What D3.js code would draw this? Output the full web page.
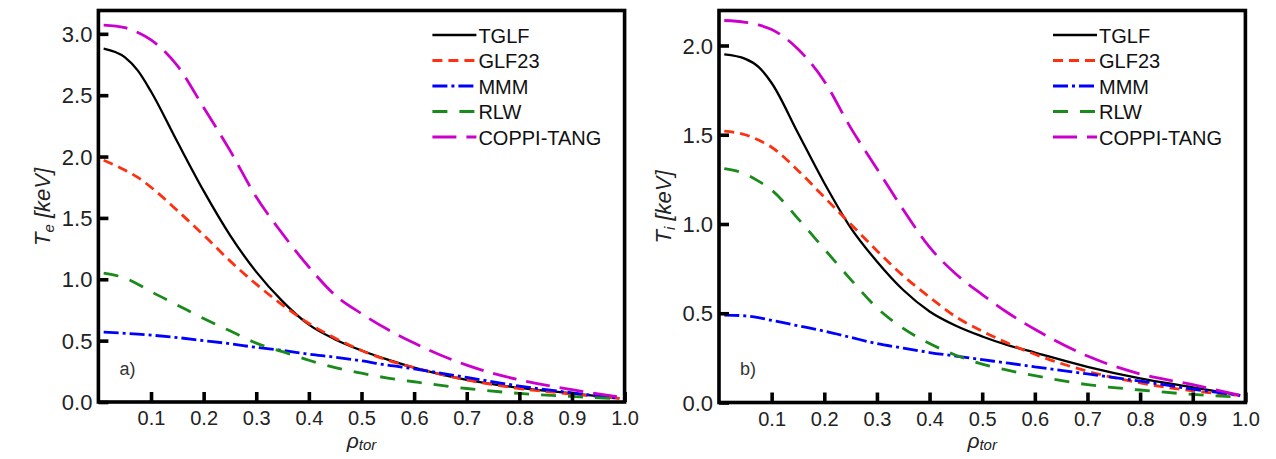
<!DOCTYPE html>
<html>
<head>
<meta charset="utf-8">
<script src="https://cdn.jsdelivr.net/npm/d3@7"></script>
<style>
  body { margin: 0; background: #fff; }
  svg { display: block; font-family: "Liberation Sans", Arial, sans-serif; }
  .tick text { fill: #222; }
</style>
</head>
<body>
<div id="chart"></div>
<script>
// rho_tor grid shared by all profiles
var rho = [0.01, 0.05, 0.075, 0.1, 0.15, 0.2, 0.25, 0.3, 0.35, 0.4, 0.45, 0.5, 0.55, 0.6, 0.7, 0.8, 0.9, 0.99];

// electron temperature, panel a)
var teTGLF  = [2.88, 2.81, 2.70, 2.53, 2.12, 1.72, 1.36, 1.06, 0.82, 0.63, 0.51, 0.42, 0.345, 0.28, 0.18, 0.115, 0.07, 0.03];
var teGLF23 = [1.97, 1.89, 1.83, 1.75, 1.56, 1.36, 1.15, 0.96, 0.79, 0.64, 0.52, 0.42, 0.34, 0.28, 0.18, 0.11, 0.065, 0.03];
var teMMM   = [0.57, 0.56, 0.553, 0.545, 0.525, 0.50, 0.475, 0.445, 0.42, 0.39, 0.365, 0.335, 0.30, 0.27, 0.20, 0.13, 0.075, 0.03];
var teRLW   = [1.05, 1.01, 0.96, 0.90, 0.79, 0.68, 0.58, 0.48, 0.41, 0.34, 0.28, 0.235, 0.195, 0.165, 0.11, 0.07, 0.045, 0.025];
var teCOPPI = [3.07, 3.05, 3.01, 2.95, 2.74, 2.40, 2.05, 1.67, 1.37, 1.10, 0.87, 0.72, 0.59, 0.48, 0.30, 0.18, 0.10, 0.04];

// ion temperature, panel b)
var tiTGLF  = [1.95, 1.925, 1.88, 1.79, 1.51, 1.23, 0.98, 0.79, 0.63, 0.51, 0.43, 0.37, 0.32, 0.28, 0.20, 0.135, 0.085, 0.04];
var tiGLF23 = [1.52, 1.50, 1.47, 1.43, 1.30, 1.15, 1.00, 0.85, 0.71, 0.59, 0.48, 0.40, 0.33, 0.27, 0.175, 0.11, 0.065, 0.04];
var tiMMM   = [0.49, 0.485, 0.475, 0.46, 0.43, 0.40, 0.365, 0.33, 0.305, 0.28, 0.26, 0.24, 0.22, 0.20, 0.16, 0.12, 0.075, 0.04];
var tiRLW   = [1.31, 1.28, 1.24, 1.19, 1.03, 0.86, 0.69, 0.53, 0.415, 0.33, 0.265, 0.215, 0.18, 0.15, 0.10, 0.07, 0.045, 0.03];
var tiCOPPI = [2.14, 2.13, 2.115, 2.09, 1.98, 1.80, 1.54, 1.31, 1.08, 0.87, 0.72, 0.605, 0.50, 0.41, 0.26, 0.16, 0.10, 0.04];

var modelNames = ["TGLF", "GLF23", "MMM", "RLW", "COPPI-TANG"];
var xTicks = [0.1, 0.2, 0.3, 0.4, 0.5, 0.6, 0.7, 0.8, 0.9, 1.0];
var yTicksA = [0, 0.5, 1.0, 1.5, 2.0, 2.5, 3.0];
var yTicksB = [0, 0.5, 1.0, 1.5, 2.0];

var styles = [
  { color: "#000000", width: 2.3, dash: null },
  { color: "#ff3010", width: 2.8, dash: "10,6" },
  { color: "#0000ff", width: 2.8, dash: "15,4,3,4" },
  { color: "#1a8a1a", width: 2.8, dash: "15,12" },
  { color: "#cc00cc", width: 2.8, dash: "24,10" }
];

var svg = d3.select("#chart")
  .append("svg")
  .attr("width", 1276)
  .attr("height", 459);

function drawPanel(opt) {
  var x = d3.scaleLinear().domain([0, 1]).range([opt.x0, opt.x1]);
  var y = d3.scaleLinear().domain([0, opt.yMax]).range([opt.y0, opt.top]);

  var g = svg.append("g");

  // curves
  var line = d3.line()
    .x(d => x(d[0]))
    .y(d => y(d[1]))
    .curve(d3.curveMonotoneX);

  opt.series.forEach(function (vals, i) {
    var st = styles[i];
    g.append("path")
      .datum(rho.map((r, k) => [r, vals[k]]))
      .attr("d", line)
      .attr("fill", "none")
      .attr("stroke", st.color)
      .attr("stroke-width", st.width)
      .attr("stroke-dasharray", st.dash);
  });

  // axes with inward ticks
  var xAxis = g.append("g")
    .attr("transform", `translate(0, ${opt.y0})`)
    .call(d3.axisBottom(x).tickValues(xTicks).tickFormat(d3.format(".1f")).tickSize(-10).tickPadding(9));
  xAxis.selectAll("text").attr("font-size", 20);

  var yAxis = g.append("g")
    .attr("transform", `translate(${opt.x0}, 0)`)
    .call(d3.axisLeft(y).tickValues(opt.yTicks).tickFormat(d3.format(".1f")).tickSize(-10).tickPadding(6));
  yAxis.selectAll("text").attr("font-size", 22).attr("dy", "0.35em");

  [xAxis, yAxis].forEach(function (a) {
    a.select(".domain").remove();
    a.selectAll(".tick line").attr("stroke", "#000").attr("stroke-width", 3.6);
    a.attr("font-family", null);
  });

  // frame
  g.append("rect")
    .attr("x", opt.x0)
    .attr("y", opt.top)
    .attr("width", opt.x1 - opt.x0)
    .attr("height", opt.y0 - opt.top)
    .attr("fill", "none")
    .attr("stroke", "#000")
    .attr("stroke-width", 3.6);

  // legend
  var legend = g.append("g");
  modelNames.forEach(function (name, i) {
    var ly = 35 + i * 25.5;
    var st = styles[i];
    legend.append("line")
      .attr("x1", opt.x0 + 334).attr("x2", opt.x0 + 378)
      .attr("y1", ly).attr("y2", ly)
      .attr("stroke", st.color)
      .attr("stroke-width", i === 0 ? 2.6 : 3)
      .attr("stroke-dasharray", st.dash);
    legend.append("text")
      .attr("x", opt.x0 + 380)
      .attr("y", ly + 7.5)
      .attr("font-size", 20)
      .attr("fill", "#111")
      .text(name);
  });

  // panel tag
  g.append("text")
    .attr("x", opt.x0 + 21)
    .attr("y", 375)
    .attr("font-size", 18)
    .attr("fill", "#333")
    .text(opt.tag);

  // x label
  var xl = g.append("text")
    .attr("x", x(0.5))
    .attr("y", 448)
    .attr("text-anchor", "middle")
    .attr("font-style", "italic")
    .attr("font-size", 21)
    .attr("fill", "#222");
  xl.append("tspan").text("ρ");
  xl.append("tspan").attr("font-size", 15).attr("dy", 2).text("tor");

  // y label
  var yl = g.append("text")
    .attr("transform", `translate(${opt.x0 - 48}, 207) rotate(-90)`)
    .attr("text-anchor", "middle")
    .attr("font-style", "italic")
    .attr("font-size", 22)
    .attr("fill", "#222");
  yl.append("tspan").text("T");
  yl.append("tspan").attr("font-size", 15).attr("dy", 4).text(opt.sub);
  yl.append("tspan").attr("dy", -4).text(" [keV]");
}

drawPanel({
  x0: 98.4, x1: 624.6, top: 10.5, y0: 402, yMax: 3.19,
  yTicks: yTicksA, tag: "a)", sub: "e",
  series: [teTGLF, teGLF23, teMMM, teRLW, teCOPPI]
});

drawPanel({
  x0: 719, x1: 1245.4, top: 10.5, y0: 402.5, yMax: 2.196,
  yTicks: yTicksB, tag: "b)", sub: "i",
  series: [tiTGLF, tiGLF23, tiMMM, tiRLW, tiCOPPI]
});
</script>
</body>
</html>
